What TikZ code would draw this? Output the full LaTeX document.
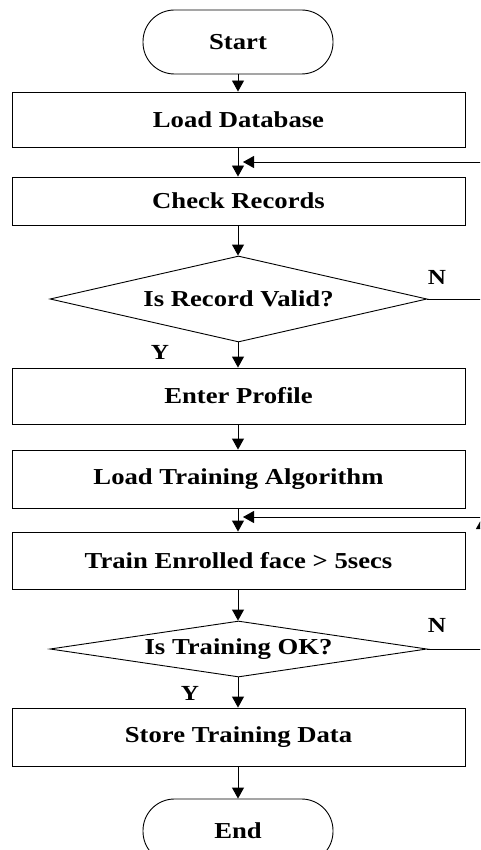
\documentclass[tikz,border=0pt]{standalone}
\usepackage{fontspec}
\setmainfont{Liberation Serif}[FakeStretch=1.17]
\usetikzlibrary{shapes.geometric,arrows.meta}

\tikzset{
  flowline/.style={line width=0.9pt},
  arr/.style={flowline, -{Triangle[length=11pt,width=12pt]}},
  procbox/.style={draw, line width=0.9pt, inner sep=0pt, minimum width=453pt},
  termbox/.style={draw, line width=0.9pt, inner sep=0pt, minimum width=190pt,
                  rounded corners=31.5pt},
  decision/.style={draw, diamond, line width=0.9pt, inner sep=0pt, minimum width=377pt},
  branchlbl/.style={inner sep=0pt, font=\bfseries\fontsize{21.5}{25}\selectfont},
}

\begin{document}
\begin{tikzpicture}[x=1pt, y=-1pt, font=\bfseries\fontsize{22.8}{26}\selectfont]
\useasboundingbox (0,0) rectangle (480,850);
\clip (0,0) rectangle (480,850);

% main column
\node[termbox, minimum height=64pt] (start) at (238,42) {Start};
\node[procbox, minimum height=55pt] (load)  at (238.5,119.5) {Load Database};
\node[procbox, minimum height=48pt] (check) at (238.5,201) {Check Records};
\node[decision, minimum height=86pt, shape aspect=4.4] (valid) at (238.5,299) {Is Record Valid?};
\node[procbox, minimum height=56pt] (enter) at (238.5,396) {Enter Profile};
\node[procbox, minimum height=58pt] (algo)  at (238.5,479) {Load Training Algorithm};
\node[procbox, minimum height=57pt] (train) at (238.5,560.5) {Train Enrolled face > 5secs};
\node[decision, minimum height=56pt, shape aspect=6.7] (ok) at (238.5,649) {Is Training OK?};
\node[procbox, minimum height=58pt] (store) at (238.5,737) {Store Training Data};
\node[termbox, minimum height=64pt] (end) at (238,831) {End};

% branch labels
\node[branchlbl] (n1) at (437,277) {N};
\node[branchlbl] (y1) at (160,352) {Y};
\node[branchlbl] (n2) at (437,625) {N};
\node[branchlbl] (y2) at (190,693) {Y};

% downward flow
\draw[arr] (start.south -| 238,0) -- (load.north -| 238,0);
\draw[arr] (load.south -| 238,0) -- (check.north -| 238,0);
\draw[arr] (check.south -| 238,0) -- (valid.north -| 238,0);
\draw[arr] (valid.south -| 238,0) -- (enter.north -| 238,0);
\draw[arr] (enter.south -| 238,0) -- (algo.north -| 238,0);
\draw[arr] (algo.south -| 238,0) -- (train.north -| 238,0);
\draw[arr] (train.south -| 238,0) -- (ok.north -| 238,0);
\draw[arr] (ok.south -| 238,0) -- (store.north -| 238,0);
\draw[arr] (store.south -| 238,0) -- (end.north -| 238,0);

% "N" return loops, running out past the right edge
\coordinate (loopA) at (495,162);
\coordinate (backA) at (243,162);
\draw[arr] (valid.east) -| (loopA) -- (backA);

\coordinate (loopB) at (482,518);
\coordinate (turnB) at (482,517);
\coordinate (backB) at (243,517);
\draw[arr] (ok.east) -| (loopB);
\draw[arr] (turnB) -- (backB);
\end{tikzpicture}
\end{document}
